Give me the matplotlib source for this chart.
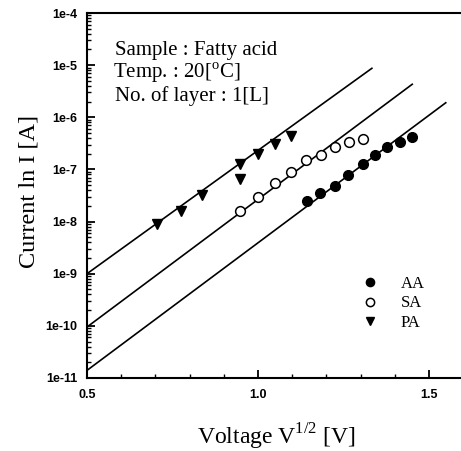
import matplotlib
matplotlib.use("Agg")
import matplotlib.pyplot as plt
import numpy as np
from matplotlib.ticker import LogLocator, MultipleLocator, FixedLocator, NullFormatter

# ---- data ----
aa_x = [1.142, 1.181, 1.225, 1.264, 1.306, 1.342, 1.378, 1.415, 1.449]
aa_y = [2.5e-8, 3.5e-8, 4.8e-8, 7.8e-8, 1.27e-7, 1.9e-7, 2.7e-7, 3.4e-7, 4.1e-7]

sa_x = [0.948, 0.999, 1.049, 1.096, 1.141, 1.185, 1.226, 1.267, 1.306]
sa_y = [1.6e-8, 3.0e-8, 5.4e-8, 9.0e-8, 1.5e-7, 1.9e-7, 2.65e-7, 3.4e-7, 3.8e-7]

pa_x = [0.705, 0.776, 0.836, 0.946, 0.946, 0.999, 1.049, 1.096]
pa_y = [8.9e-9, 1.6e-8, 3.3e-8, 1.25e-7, 6.5e-8, 2.0e-7, 3.1e-7, 4.4e-7]

# fitted lines (endpoints)
fit_aa_x = [0.5, 1.549]
fit_aa_y = [1.4e-11, 1.9e-6]
fit_sa_x = [0.5, 1.451]
fit_sa_y = [9.5e-11, 4.3e-6]
fit_pa_x = [0.5, 1.333]
fit_pa_y = [1.0e-9, 8.7e-6]

y_ticks = [1e-11, 1e-10, 1e-9, 1e-8, 1e-7, 1e-6, 1e-5, 1e-4]
y_tick_labels = ["1e-11", "1e-10", "1e-9", "1e-8", "1e-7", "1e-6", "1e-5", "1e-4"]
x_ticks = [0.5, 1.0, 1.5]
x_tick_labels = ["0.5", "1.0", "1.5"]

legend_labels = ["AA", "SA", "PA"]

# ---- figure ----
W, H = 461, 451
fig = plt.figure(figsize=(W / 100, H / 100), dpi=100)
left_px, right_px, top_px, bottom_px = 87, 463.2, 13, 378
ax = fig.add_axes([left_px / W, 1 - bottom_px / H, (right_px - left_px) / W, (bottom_px - top_px) / H])

serif = ["Liberation Serif", "DejaVu Serif"]
sans_bold = dict(family=["Liberation Sans", "DejaVu Sans"], weight="bold", size=9)

ax.set_yscale("log")
ax.set_xlim(0.5, 1.6)
ax.set_ylim(1e-11, 1e-4)

lc = "black"
ax.plot(fit_aa_x, fit_aa_y, color=lc, lw=1.2)
ax.plot(fit_sa_x, fit_sa_y, color=lc, lw=1.2)
ax.plot(fit_pa_x, fit_pa_y, color=lc, lw=1.2)

h1, = ax.plot(aa_x, aa_y, "o", color="black", ms=7, ls="none")
h2, = ax.plot(sa_x, sa_y, "o", mfc="white", mec="black", mew=1.1, ms=7, ls="none")
h3, = ax.plot(pa_x, pa_y, "v", color="black", ms=7.5, ls="none")

ax.yaxis.set_major_locator(FixedLocator(y_ticks))
ax.set_yticklabels(y_tick_labels, fontdict=sans_bold)
ax.yaxis.set_minor_locator(LogLocator(base=10, subs=np.arange(2, 10), numticks=20))
ax.yaxis.set_minor_formatter(NullFormatter())
ax.xaxis.set_major_locator(FixedLocator(x_ticks))
ax.set_xticklabels(x_tick_labels, fontdict=sans_bold)
ax.xaxis.set_minor_locator(MultipleLocator(0.1))

ax.tick_params(which="major", direction="in", length=6, width=1.3)
ax.tick_params(which="minor", direction="in", length=3, width=1.0)
ax.tick_params(axis="y", which="major", pad=7)
ax.tick_params(axis="x", which="major", pad=8)

for s in ["left", "bottom", "top"]:
    ax.spines[s].set_linewidth(1.5)
ax.spines["right"].set_visible(False)

ax.set_ylabel("Current ln I [A]", fontfamily=serif, fontsize=17.5)
ax.yaxis.set_label_coords((40 - left_px) / (right_px - left_px), 0.51)
ax.set_xlabel(r"Voltage V$^{\mathregular{1/2}}$ [V]", fontfamily=serif, fontsize=17)
ax.xaxis.set_label_coords((276 - left_px) / (right_px - left_px), (378 - 445) / (378 - 13))
ax.xaxis.label.set_va("baseline")

# annotation text
tx = 115 / W
fig.text(tx, 1 - 55 / H, "Sample : Fatty acid", family=serif, fontsize=15, va="baseline")
fig.text(113 / W, 1 - 78 / H, r"Temp. : 20[$^{\mathregular{o}}$C]", family=serif, fontsize=15, va="baseline")
fig.text(tx, 1 - 101 / H, "No. of layer : 1[L]", family=serif, fontsize=15, va="baseline")

leg = ax.legend([h1, h2, h3], legend_labels, loc="upper left",
                bbox_to_anchor=(363 / W, 1 - 276 / H), bbox_transform=fig.transFigure,
                frameon=False, prop=dict(family=serif, size=12),
                handlelength=0.8, handletextpad=1.45, labelspacing=0.2, borderpad=0,
                borderaxespad=0, markerscale=0.85)

fig.savefig("out.png", dpi=100)
